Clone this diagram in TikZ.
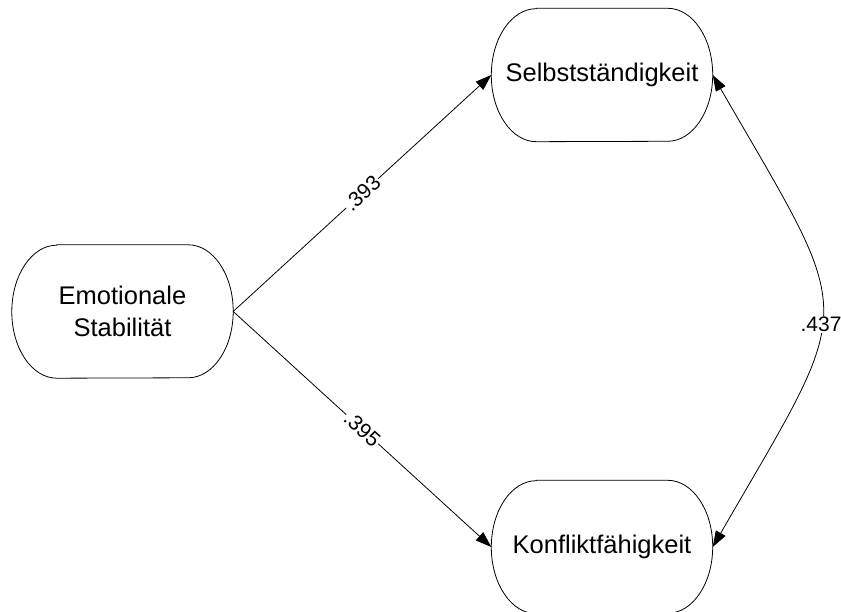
\documentclass[tikz,border=0pt]{standalone}
\usepackage{fontspec}
\setmainfont{Liberation Sans}
\usetikzlibrary{arrows.meta}

% capsule outline with elliptical ends around a node
\newcommand\capsuleoutline[1]{%
  \draw[capline] ([xshift=45pt]#1.north west) -- ([xshift=-45pt]#1.north east)
    arc[start angle=90,end angle=-90,x radius=45pt,y radius=66.5pt]
    -- ([xshift=45pt]#1.south west)
    arc[start angle=270,end angle=90,x radius=45pt,y radius=66.5pt] -- cycle;}

\begin{document}
\begin{tikzpicture}[x=1pt,y=1pt,
  construct/.style={minimum width=221pt,minimum height=133pt,inner sep=0pt,
    align=center,font=\fontsize{25.5}{32}\selectfont},
  capline/.style={line width=0.8pt,black},
  path/.style={line width=0.8pt,-{Triangle[length=16pt,width=11pt]}},
  corr/.style={line width=0.8pt,{Triangle[length=16pt,width=11pt]}-{Triangle[length=16pt,width=11pt]}},
  weight/.style={fill=white,inner sep=1pt,font=\fontsize{21}{24}\selectfont}]
\useasboundingbox (0,0) rectangle (841,612);

\node[construct] (es) at (122.5,300.5) {Emotionale\\Stabilität};
\node[construct] (se) at (602,537) {Selbstständigkeit};
\node[construct] (kf) at (602,65) {Konfliktfähigkeit};

\capsuleoutline{es}
\capsuleoutline{se}
\capsuleoutline{kf}

\draw[path] (es.east) -- node[weight,sloped,pos=0.5] {.393} (se.west);
\draw[path] (es.east) -- node[weight,sloped,pos=0.5] {.395} (kf.west);
\draw[corr] (se.east) to[out=-60,in=60,looseness=1.58]
  node[weight,pos=0.54] {.437} (kf.east);
\end{tikzpicture}
\end{document}
